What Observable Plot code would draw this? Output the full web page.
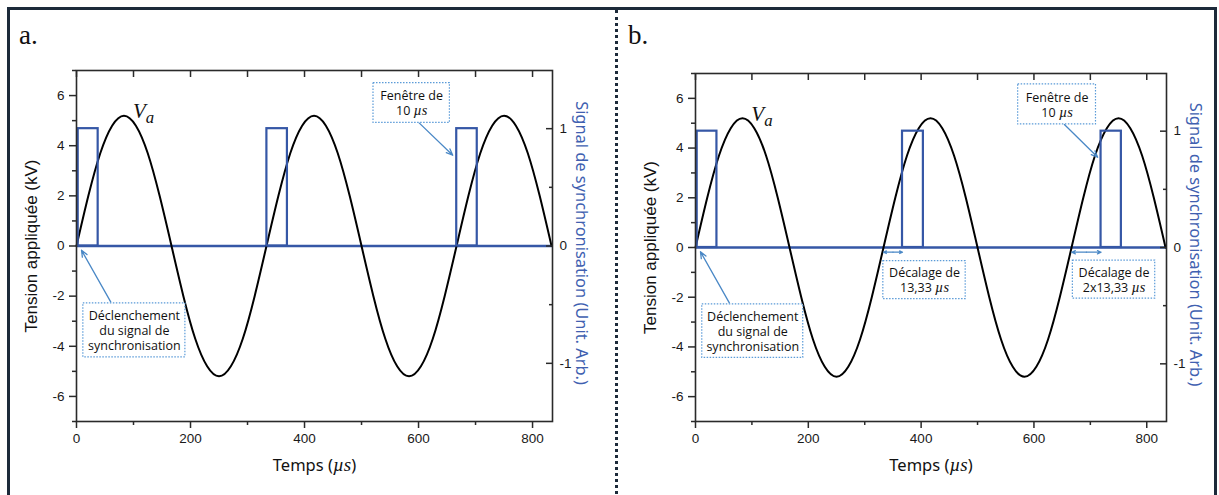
<!DOCTYPE html>
<html><head><meta charset="utf-8">
<script src="https://cdn.jsdelivr.net/npm/d3@7"></script>
<script src="https://cdn.jsdelivr.net/npm/@observablehq/plot@0.6"></script>
<style>
body{margin:0;background:#fff;}
#wrap{position:relative;width:1219px;height:495px;overflow:hidden;background:#fff;}
.panel{position:absolute;top:0;}
#border{position:absolute;left:7px;top:7px;width:1204px;height:520px;border:3px solid #1c2a3a;pointer-events:none}
#sep{position:absolute;left:615px;top:10px;height:490px;border-left:3px dotted #1c2a3a}
.plab{position:absolute;top:22px;font-family:"Liberation Serif",serif;font-size:27px;line-height:27px;color:#111}
</style></head>
<body>
<div id="wrap">
  <div class="panel" id="pa" style="left:0"></div>
  <div class="panel" id="pb" style="left:617px"></div>
  <div class="plab" style="left:19px">a.</div>
  <div class="plab" style="left:628px">b.</div>
  <div id="border"></div>
  <div id="sep"></div>
</div>
<script>
// ---- data ----
const time = [0, 20.8, 41.7, 62.5, 83.3, 104.2, 125, 145.8, 166.7, 187.5, 208.3, 229.2, 250, 270.8, 291.7, 312.5,
  333.3, 354.2, 375, 395.8, 416.7, 437.5, 458.3, 479.2, 500, 520.8, 541.7, 562.5, 583.3, 604.2, 625, 645.8,
  666.7, 687.5, 708.3, 729.2, 750, 770.8, 791.7, 812.5, 833.3];
const volt = [0, 2.0, 3.7, 4.8, 5.2, 4.8, 3.7, 2.0, 0, -2.0, -3.7, -4.8, -5.2, -4.8, -3.7, -2.0,
  0, 2.0, 3.7, 4.8, 5.2, 4.8, 3.7, 2.0, 0, -2.0, -3.7, -4.8, -5.2, -4.8, -3.7, -2.0,
  0, 2.0, 3.7, 4.8, 5.2, 4.8, 3.7, 2.0, 0];

const pulseStartA = [3, 334, 667];
const pulseEndA   = [38, 370, 703];
const pulseStartB = [3, 367, 719];
const pulseEndB   = [38, 404, 755];
const pulseLevel = 1;

const xMajor = [0, 200, 400, 600, 800];
const xMinor = [100, 300, 500, 700];
const yMajor = [-6, -4, -2, 0, 2, 4, 6];
const yMinor = [-7, -5, -3, -1, 1, 3, 5, 7];
const syncMajor = [-1, 0, 1];
const syncMinor = [-0.5, 0.5];
const SYNC_TO_KV = 4.68; // one unit of the right axis in left-axis units

const vaLabel = [{t: 99, v: 5.38, text: "V_a"}];

const boxesA = [
  {x1: 12, x2: 191, y1: -2.29, y2: -4.44, text: "Déclenchement\ndu signal de\nsynchronisation"},
  {x1: 521, x2: 655, y1: 6.5, y2: 4.91, text: "Fenêtre de\n10 µs"}
];
const arrowsA = [
  {x1: 60, y1: -2.23, x2: 8.8, y2: -0.17},
  {x1: 601, y1: 4.91, x2: 660, y2: 3.62}
];
const boxesB = [
  {x1: 12, x2: 191, y1: -2.29, y2: -4.44, text: "Déclenchement\ndu signal de\nsynchronisation"},
  {x1: 572, x2: 710, y1: 6.56, y2: 4.95, text: "Fenêtre de\n10 µs"},
  {x1: 333, x2: 479, y1: -0.55, y2: -2.08, text: "Décalage de\n13,33 µs"},
  {x1: 669, x2: 815, y1: -0.53, y2: -2.06, text: "Décalage de\n2x13,33 µs"}
];
const arrowsB = [
  {x1: 60, y1: -2.23, x2: 8.8, y2: -0.17},
  {x1: 654, y1: 4.95, x2: 713, y2: 3.63}
];
const shiftsB = [
  {from: 333.3, to: 367, y: -0.19},
  {from: 667, to: 719, y: -0.19}
];

// ---- styling ----
const BLUE = "#3557a6";
const TITLE_BLUE = "#4060b0";
const ANN = "#4a88c6";
const BOX = "#5b9bd8";
const AX = "#2a2a2a";
const SANS = "'Liberation Sans', Arial, sans-serif";

function panel({width, ml, mr, mt, mb, starts, ends, boxes, arrows, shifts}) {
  const sine = time.map((t, i) => ({t, v: volt[i]}));
  const pulses = starts.map((s, i) => ({s, e: ends[i]}));
  const dbl = shifts.flatMap(d => {
    const m = (d.from + d.to) / 2;
    return [{x1: m, x2: d.from, y: d.y}, {x1: m, x2: d.to, y: d.y}];
  });
  const fmt = d => String(d);
  const ax = {label: null, stroke: AX, strokeWidth: 1.5, fontFamily: SANS, fontSize: 13.5, fill: "#1a1a1a"};
  return Plot.plot({
    width, height: 495,
    marginLeft: ml, marginRight: mr, marginTop: mt, marginBottom: mb,
    x: {domain: [0, 835]},
    y: {domain: [-7, 7]},
    style: {background: "transparent", fontFamily: SANS, fontSize: "13px", color: "#1a1a1a", overflow: "visible"},
    marks: [
      Plot.ruleY([0], {stroke: BLUE, strokeWidth: 2.5}),
      Plot.line(sine, {x: "t", y: "v", curve: "natural", stroke: "#000", strokeWidth: 2}),
      Plot.rect(pulses, {x1: "s", x2: "e", y1: 0, y2: pulseLevel * SYNC_TO_KV, stroke: BLUE, strokeWidth: 2.2, fill: "none"}),
      Plot.frame({stroke: AX, strokeWidth: 1.6}),
      // bottom axis
      Plot.axisX({...ax, anchor: "bottom", ticks: xMajor, tickSize: 7, tickPadding: 5, tickFormat: fmt}),
      Plot.axisX({...ax, anchor: "bottom", ticks: xMinor, tickSize: 4, tickFormat: () => ""}),
      // top axis (inward)
      Plot.axisX({...ax, anchor: "top", ticks: xMajor.concat(xMinor), tickSize: 6, dy: 6, tickFormat: () => ""}),
      // left axis
      Plot.axisY({...ax, anchor: "left", ticks: yMajor, tickSize: 7, tickPadding: 5, tickFormat: fmt}),
      Plot.axisY({...ax, anchor: "left", ticks: yMinor, tickSize: 4, tickFormat: () => ""}),
      // right axis (inward ticks)
      Plot.axisY({...ax, anchor: "right", ticks: syncMajor.map(v => v * SYNC_TO_KV), tickSize: 7, dx: -7, tickFormat: () => ""}),
      Plot.axisY({...ax, anchor: "right", ticks: syncMinor.map(v => v * SYNC_TO_KV), tickSize: 4, dx: -4, tickFormat: () => ""}),
      Plot.axisY({...ax, anchor: "right", ticks: syncMajor.map(v => v * SYNC_TO_KV), tickSize: 0, tickPadding: 7, tickFormat: d => String(Math.round(d / SYNC_TO_KV))}),
      // titles
      Plot.text(["Tension appliquée (kV)"], {text: d => d, frameAnchor: "left", textAnchor: "middle", lineAnchor: "middle", dx: -45, rotate: -90, fontSize: 17, fill: "#111"}),
      Plot.text(["Signal de synchronisation (Unit. Arb.)"], {text: d => d, frameAnchor: "right", textAnchor: "middle", lineAnchor: "middle", dx: 29, dy: -3, rotate: 90, fontSize: 16.4, fontFamily: "'Noto Sans', sans-serif", fill: TITLE_BLUE}),
      Plot.text(["Temps (µs)"], {text: d => d, frameAnchor: "bottom", textAnchor: "middle", lineAnchor: "middle", dy: 44, fontSize: 16.5, fontFamily: "'Noto Sans', sans-serif", fill: "#111"}),
      // V_a label
      Plot.text(vaLabel, {x: "t", y: "v", text: "text", textAnchor: "start", lineAnchor: "middle", fontSize: 21, fontStyle: "italic", fontFamily: "'Liberation Serif', serif", fill: "#111"}),
      // annotations
      Plot.arrow(arrows, {x1: "x1", y1: "y1", x2: "x2", y2: "y2", stroke: ANN, strokeWidth: 1.3, headLength: 8, headAngle: 45}),
      Plot.arrow(dbl, {x1: "x1", y1: "y", x2: "x2", y2: "y", stroke: ANN, strokeWidth: 1.2, headLength: 5, headAngle: 50}),
      Plot.rect(boxes, {x1: "x1", x2: "x2", y1: "y1", y2: "y2", fill: "#fff", stroke: BOX, strokeWidth: 1.2, strokeDasharray: "1.5,1.5"}),
      Plot.text(boxes, {x: d => (d.x1 + d.x2) / 2, y: d => (d.y1 + d.y2) / 2, text: "text", lineHeight: 1.2, fontSize: 12.5, fontFamily: "'Open Sans', sans-serif", fill: "#111"})
    ]
  });
}

function richText(svg) {
  const walker = document.createTreeWalker(svg, NodeFilter.SHOW_TEXT);
  const nodes = [];
  while (walker.nextNode()) nodes.push(walker.currentNode);
  const NS = "http://www.w3.org/2000/svg";
  for (const n of nodes) {
    const s = n.nodeValue;
    if (s.includes("µs")) {
      const parts = s.split("µs");
      const frag = document.createDocumentFragment();
      parts.forEach((p, i) => {
        if (p) frag.appendChild(document.createTextNode(p));
        if (i < parts.length - 1) {
          const t = document.createElementNS(NS, "tspan");
          t.setAttribute("font-family", "'Liberation Serif', serif");
          t.setAttribute("font-style", "italic");
          t.setAttribute("font-size", "1.15em");
          t.textContent = "µs";
          frag.appendChild(t);
        }
      });
      n.parentNode.replaceChild(frag, n);
    } else if (s === "V_a") {
      const frag = document.createDocumentFragment();
      frag.appendChild(document.createTextNode("V"));
      const t = document.createElementNS(NS, "tspan");
      t.setAttribute("dy", "0.32em");
      t.setAttribute("font-size", "0.8em");
      t.textContent = "a";
      frag.appendChild(t);
      n.parentNode.replaceChild(frag, n);
    }
  }
  return svg;
}

const a = panel({width: 617, ml: 76, mr: 65, mt: 70, mb: 74, starts: pulseStartA, ends: pulseEndA, boxes: boxesA, arrows: arrowsA, shifts: []});
const b = panel({width: 602, ml: 78, mr: 53, mt: 73, mb: 74, starts: pulseStartB, ends: pulseEndB, boxes: boxesB, arrows: arrowsB, shifts: shiftsB});
document.getElementById("pa").appendChild(richText(a));
document.getElementById("pb").appendChild(richText(b));
</script>
</body></html>
